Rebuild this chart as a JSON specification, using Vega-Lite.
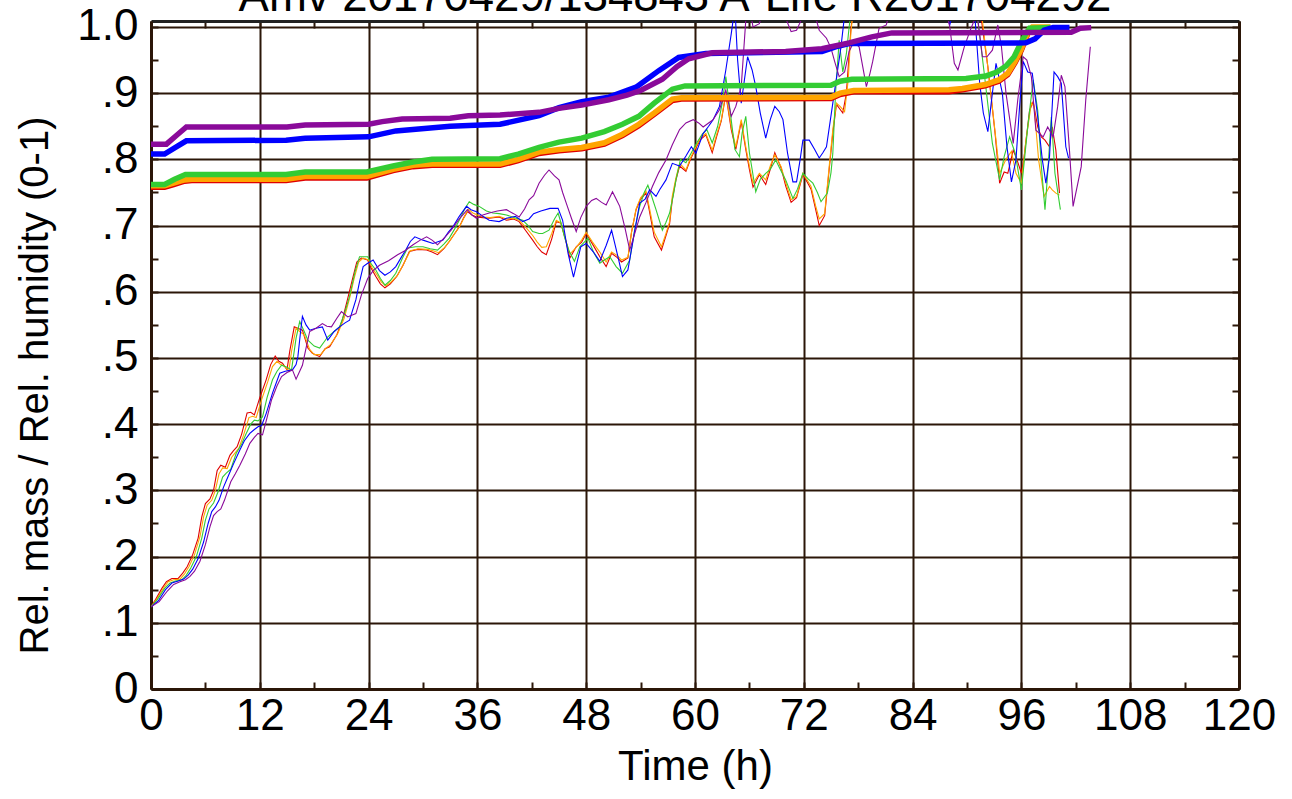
{
"$schema":"https://vega.github.io/schema/vega-lite/v6.json",
"width":1088,"height":668,
"autosize":{"type":"none"},
"padding":{"left":151,"top":21,"right":53,"bottom":110},
"background":"white",
"title":{"text":"Amv 20170429/134843 A-Life R201704292","anchor":"middle","fontSize":45.5,"font":"Liberation Sans","fontWeight":"normal","color":"#000","baseline":"alphabetic","offset":-52,"dx":-20},
"config":{"view":{"stroke":null}},
"datasets":{
"rh":[
{"s":"red","t":0,"v":0.124},{"s":"red","t":0.5,"v":0.135},{"s":"red","t":1.2,"v":0.152},{"s":"red","t":1.7,"v":0.162},{"s":"red","t":2.3,"v":0.167},{"s":"red","t":3.0,"v":0.167},{"s":"red","t":3.5,"v":0.175},{"s":"red","t":4.0,"v":0.185},{"s":"red","t":4.6,"v":0.203},{"s":"red","t":5.2,"v":0.228},{"s":"red","t":5.6,"v":0.26},{"s":"red","t":6.0,"v":0.28},{"s":"red","t":6.5,"v":0.287},{"s":"red","t":6.9,"v":0.3},{"s":"red","t":7.3,"v":0.33},{"s":"red","t":7.7,"v":0.338},{"s":"red","t":8.2,"v":0.335},{"s":"red","t":8.7,"v":0.353},{"s":"red","t":9.1,"v":0.36},{"s":"red","t":9.5,"v":0.366},{"s":"red","t":10.0,"v":0.385},{"s":"red","t":10.6,"v":0.417},{"s":"red","t":11.0,"v":0.418},{"s":"red","t":11.4,"v":0.414},{"s":"red","t":12.0,"v":0.44},{"s":"red","t":12.7,"v":0.467},{"s":"red","t":13.2,"v":0.49},{"s":"red","t":13.7,"v":0.503},{"s":"red","t":14.1,"v":0.495},{"s":"red","t":14.5,"v":0.492},{"s":"red","t":15.0,"v":0.482},{"s":"red","t":15.3,"v":0.51},{"s":"red","t":15.8,"v":0.547},{"s":"red","t":16.2,"v":0.545},{"s":"red","t":16.7,"v":0.542},{"s":"red","t":17.3,"v":0.515},{"s":"red","t":17.8,"v":0.507},{"s":"red","t":18.6,"v":0.502},{"s":"red","t":19.2,"v":0.514},{"s":"red","t":19.7,"v":0.517},{"s":"red","t":20.5,"v":0.535},{"s":"red","t":21.1,"v":0.557},{"s":"red","t":21.7,"v":0.59},{"s":"red","t":22.2,"v":0.618},{"s":"red","t":22.7,"v":0.645},{"s":"red","t":23.2,"v":0.651},{"s":"red","t":23.9,"v":0.648},{"s":"red","t":24.3,"v":0.635},{"s":"red","t":24.8,"v":0.623},{"s":"red","t":25.3,"v":0.612},{"s":"red","t":25.8,"v":0.606},{"s":"red","t":26.4,"v":0.612},{"s":"red","t":27.1,"v":0.623},{"s":"red","t":27.8,"v":0.64},{"s":"red","t":28.5,"v":0.661},{"s":"red","t":29.4,"v":0.664},{"s":"red","t":30.4,"v":0.663},{"s":"red","t":31.0,"v":0.66},{"s":"red","t":31.6,"v":0.656},{"s":"red","t":32.3,"v":0.665},{"s":"red","t":32.9,"v":0.676},{"s":"red","t":33.5,"v":0.688},{"s":"red","t":34.0,"v":0.698},{"s":"red","t":34.5,"v":0.712},{"s":"red","t":34.9,"v":0.721},{"s":"red","t":35.4,"v":0.716},{"s":"red","t":35.9,"v":0.713},{"s":"red","t":36.6,"v":0.712},{"s":"red","t":37.3,"v":0.711},{"s":"red","t":38.4,"v":0.713},{"s":"red","t":39.2,"v":0.708},{"s":"red","t":40.0,"v":0.71},{"s":"red","t":40.6,"v":0.706},{"s":"red","t":41.3,"v":0.693},{"s":"red","t":42.1,"v":0.678},{"s":"red","t":42.6,"v":0.668},{"s":"red","t":43.1,"v":0.66},{"s":"red","t":43.6,"v":0.656},{"s":"red","t":44.2,"v":0.68},{"s":"red","t":44.7,"v":0.706},{"s":"red","t":45.2,"v":0.704},{"s":"red","t":45.7,"v":0.68},{"s":"red","t":46.2,"v":0.651},{"s":"red","t":46.9,"v":0.668},{"s":"red","t":47.5,"v":0.675},{"s":"red","t":48.0,"v":0.688},{"s":"red","t":48.7,"v":0.672},{"s":"red","t":49.5,"v":0.653},{"s":"red","t":50.2,"v":0.638},{"s":"red","t":50.8,"v":0.658},{"s":"red","t":51.4,"v":0.652},{"s":"red","t":51.9,"v":0.645},{"s":"red","t":52.6,"v":0.651},{"s":"red","t":53.0,"v":0.69},{"s":"red","t":53.5,"v":0.724},{"s":"red","t":54.0,"v":0.74},{"s":"red","t":54.6,"v":0.749},{"s":"red","t":55.0,"v":0.72},{"s":"red","t":55.5,"v":0.683},{"s":"red","t":56.3,"v":0.663},{"s":"red","t":56.8,"v":0.685},{"s":"red","t":57.2,"v":0.703},{"s":"red","t":57.5,"v":0.74},{"s":"red","t":57.9,"v":0.769},{"s":"red","t":58.3,"v":0.79},{"s":"red","t":59.0,"v":0.782},{"s":"red","t":59.5,"v":0.8},{"s":"red","t":60.1,"v":0.817},{"s":"red","t":60.6,"v":0.83},{"s":"red","t":61.2,"v":0.837},{"s":"red","t":61.9,"v":0.81},{"s":"red","t":62.4,"v":0.835},{"s":"red","t":62.9,"v":0.858},{"s":"red","t":63.4,"v":0.898},{"s":"red","t":64.0,"v":0.845},{"s":"red","t":64.5,"v":0.815},{"s":"red","t":65.1,"v":0.857},{"s":"red","t":65.6,"v":0.815},{"s":"red","t":66.0,"v":0.785},{"s":"red","t":66.4,"v":0.758},{"s":"red","t":67.1,"v":0.777},{"s":"red","t":67.8,"v":0.762},{"s":"red","t":68.3,"v":0.785},{"s":"red","t":68.8,"v":0.81},{"s":"red","t":69.5,"v":0.787},{"s":"red","t":70.0,"v":0.76},{"s":"red","t":70.6,"v":0.735},{"s":"red","t":71.2,"v":0.742},{"s":"red","t":71.9,"v":0.777},{"s":"red","t":72.4,"v":0.765},{"s":"red","t":72.8,"v":0.755},{"s":"red","t":73.3,"v":0.725},{"s":"red","t":73.7,"v":0.7},{"s":"red","t":74.3,"v":0.715},{"s":"red","t":74.8,"v":0.785},{"s":"red","t":75.2,"v":0.84},{"s":"red","t":75.6,"v":0.883},{"s":"red","t":76.3,"v":0.87},{"s":"red","t":76.7,"v":0.9},{"s":"red","t":77.2,"v":0.998},{"s":"red","t":77.5,"v":1.03},{"s":"red","t":91.3,"v":1.03},{"s":"red","t":91.6,"v":1.01},{"s":"red","t":92.3,"v":0.94},{"s":"red","t":93.1,"v":0.839},{"s":"red","t":93.6,"v":0.764},{"s":"red","t":94.1,"v":0.781},{"s":"red","t":94.5,"v":0.779},{"s":"red","t":95.1,"v":0.814},{"s":"red","t":95.5,"v":0.8},{"s":"red","t":96.0,"v":0.779},{"s":"red","t":96.3,"v":0.804},{"s":"red","t":96.9,"v":0.874},{"s":"red","t":97.3,"v":0.887},{"s":"red","t":97.8,"v":0.849},{"s":"red","t":98.2,"v":0.834},{"s":"red","t":98.6,"v":0.829},{"s":"red","t":99.1,"v":0.819},{"s":"red","t":99.4,"v":0.849},{"s":"red","t":99.8,"v":0.814},{"s":"red","t":100.2,"v":0.749},
{"s":"orange","t":0,"v":0.124},{"s":"orange","t":0.6,"v":0.135},{"s":"orange","t":1.4,"v":0.153},{"s":"orange","t":1.9,"v":0.162},{"s":"orange","t":2.5,"v":0.165},{"s":"orange","t":3.2,"v":0.166},{"s":"orange","t":3.7,"v":0.174},{"s":"orange","t":4.2,"v":0.185},{"s":"orange","t":4.8,"v":0.203},{"s":"orange","t":5.4,"v":0.23},{"s":"orange","t":5.8,"v":0.26},{"s":"orange","t":6.2,"v":0.278},{"s":"orange","t":6.7,"v":0.285},{"s":"orange","t":7.1,"v":0.3},{"s":"orange","t":7.5,"v":0.325},{"s":"orange","t":7.9,"v":0.334},{"s":"orange","t":8.4,"v":0.333},{"s":"orange","t":8.9,"v":0.35},{"s":"orange","t":9.3,"v":0.357},{"s":"orange","t":9.7,"v":0.364},{"s":"orange","t":10.2,"v":0.383},{"s":"orange","t":10.8,"v":0.41},{"s":"orange","t":11.2,"v":0.412},{"s":"orange","t":11.6,"v":0.41},{"s":"orange","t":12.2,"v":0.437},{"s":"orange","t":12.9,"v":0.465},{"s":"orange","t":13.4,"v":0.487},{"s":"orange","t":13.9,"v":0.495},{"s":"orange","t":14.3,"v":0.49},{"s":"orange","t":14.7,"v":0.488},{"s":"orange","t":15.2,"v":0.48},{"s":"orange","t":15.5,"v":0.51},{"s":"orange","t":16.0,"v":0.545},{"s":"orange","t":16.4,"v":0.54},{"s":"orange","t":16.9,"v":0.535},{"s":"orange","t":17.5,"v":0.513},{"s":"orange","t":18.0,"v":0.505},{"s":"orange","t":18.7,"v":0.505},{"s":"orange","t":19.3,"v":0.515},{"s":"orange","t":19.8,"v":0.52},{"s":"orange","t":20.6,"v":0.537},{"s":"orange","t":21.3,"v":0.56},{"s":"orange","t":21.9,"v":0.59},{"s":"orange","t":22.4,"v":0.62},{"s":"orange","t":22.9,"v":0.645},{"s":"orange","t":23.4,"v":0.651},{"s":"orange","t":24.0,"v":0.648},{"s":"orange","t":24.4,"v":0.636},{"s":"orange","t":24.9,"v":0.626},{"s":"orange","t":25.4,"v":0.615},{"s":"orange","t":25.9,"v":0.609},{"s":"orange","t":26.5,"v":0.615},{"s":"orange","t":27.2,"v":0.625},{"s":"orange","t":27.9,"v":0.643},{"s":"orange","t":28.6,"v":0.662},{"s":"orange","t":29.5,"v":0.665},{"s":"orange","t":30.5,"v":0.664},{"s":"orange","t":31.1,"v":0.662},{"s":"orange","t":31.7,"v":0.659},{"s":"orange","t":32.4,"v":0.667},{"s":"orange","t":33.0,"v":0.678},{"s":"orange","t":33.6,"v":0.69},{"s":"orange","t":34.1,"v":0.7},{"s":"orange","t":34.6,"v":0.714},{"s":"orange","t":35.0,"v":0.725},{"s":"orange","t":35.5,"v":0.719},{"s":"orange","t":36.0,"v":0.716},{"s":"orange","t":36.7,"v":0.713},{"s":"orange","t":37.4,"v":0.712},{"s":"orange","t":38.4,"v":0.714},{"s":"orange","t":39.2,"v":0.71},{"s":"orange","t":40.0,"v":0.711},{"s":"orange","t":40.6,"v":0.708},{"s":"orange","t":41.3,"v":0.698},{"s":"orange","t":42.1,"v":0.685},{"s":"orange","t":42.6,"v":0.675},{"s":"orange","t":43.1,"v":0.667},{"s":"orange","t":43.6,"v":0.668},{"s":"orange","t":44.2,"v":0.688},{"s":"orange","t":44.7,"v":0.708},{"s":"orange","t":45.2,"v":0.704},{"s":"orange","t":45.7,"v":0.68},{"s":"orange","t":46.2,"v":0.657},{"s":"orange","t":46.9,"v":0.667},{"s":"orange","t":47.5,"v":0.678},{"s":"orange","t":48.0,"v":0.69},{"s":"orange","t":48.7,"v":0.675},{"s":"orange","t":49.5,"v":0.66},{"s":"orange","t":50.2,"v":0.645},{"s":"orange","t":50.8,"v":0.66},{"s":"orange","t":51.4,"v":0.655},{"s":"orange","t":51.9,"v":0.648},{"s":"orange","t":52.6,"v":0.652},{"s":"orange","t":53.0,"v":0.69},{"s":"orange","t":53.5,"v":0.725},{"s":"orange","t":54.0,"v":0.742},{"s":"orange","t":54.6,"v":0.752},{"s":"orange","t":55.0,"v":0.725},{"s":"orange","t":55.5,"v":0.69},{"s":"orange","t":56.3,"v":0.668},{"s":"orange","t":56.8,"v":0.688},{"s":"orange","t":57.2,"v":0.706},{"s":"orange","t":57.5,"v":0.745},{"s":"orange","t":57.9,"v":0.772},{"s":"orange","t":58.3,"v":0.794},{"s":"orange","t":59.0,"v":0.784},{"s":"orange","t":59.5,"v":0.802},{"s":"orange","t":60.1,"v":0.819},{"s":"orange","t":60.6,"v":0.832},{"s":"orange","t":61.2,"v":0.839},{"s":"orange","t":61.9,"v":0.814},{"s":"orange","t":62.4,"v":0.838},{"s":"orange","t":62.9,"v":0.86},{"s":"orange","t":63.4,"v":0.9},{"s":"orange","t":64.0,"v":0.849},{"s":"orange","t":64.5,"v":0.819},{"s":"orange","t":65.1,"v":0.86},{"s":"orange","t":65.6,"v":0.819},{"s":"orange","t":66.0,"v":0.79},{"s":"orange","t":66.4,"v":0.764},{"s":"orange","t":67.1,"v":0.779},{"s":"orange","t":67.8,"v":0.769},{"s":"orange","t":68.3,"v":0.79},{"s":"orange","t":68.8,"v":0.807},{"s":"orange","t":69.5,"v":0.789},{"s":"orange","t":70.0,"v":0.765},{"s":"orange","t":70.6,"v":0.739},{"s":"orange","t":71.2,"v":0.744},{"s":"orange","t":71.9,"v":0.779},{"s":"orange","t":72.4,"v":0.768},{"s":"orange","t":72.8,"v":0.759},{"s":"orange","t":73.3,"v":0.73},{"s":"orange","t":73.7,"v":0.71},{"s":"orange","t":74.3,"v":0.718},{"s":"orange","t":74.8,"v":0.789},{"s":"orange","t":75.2,"v":0.845},{"s":"orange","t":75.6,"v":0.885},{"s":"orange","t":76.0,"v":0.88},{"s":"orange","t":76.5,"v":0.872},{"s":"orange","t":76.9,"v":0.92},{"s":"orange","t":77.2,"v":0.993},{"s":"orange","t":77.5,"v":1.03},{"s":"orange","t":91.4,"v":1.03},{"s":"orange","t":91.7,"v":1.01},{"s":"orange","t":92.5,"v":0.915},{"s":"orange","t":93.2,"v":0.829},{"s":"orange","t":93.6,"v":0.779},{"s":"orange","t":94.3,"v":0.8},{"s":"orange","t":94.9,"v":0.812},{"s":"orange","t":95.4,"v":0.779},{"s":"orange","t":96.0,"v":0.764},{"s":"orange","t":96.5,"v":0.829},{"s":"orange","t":97.1,"v":0.885},{"s":"orange","t":97.4,"v":0.88},{"s":"orange","t":97.9,"v":0.799},{"s":"orange","t":98.5,"v":0.744},{"s":"orange","t":99.1,"v":0.759},{"s":"orange","t":99.4,"v":0.754},{"s":"orange","t":99.8,"v":0.749},{"s":"orange","t":100.2,"v":0.746},
{"s":"green","t":0,"v":0.124},{"s":"green","t":0.7,"v":0.135},{"s":"green","t":1.5,"v":0.152},{"s":"green","t":2.1,"v":0.16},{"s":"green","t":2.7,"v":0.163},{"s":"green","t":3.4,"v":0.165},{"s":"green","t":3.9,"v":0.172},{"s":"green","t":4.4,"v":0.183},{"s":"green","t":5.0,"v":0.2},{"s":"green","t":5.6,"v":0.228},{"s":"green","t":6.0,"v":0.255},{"s":"green","t":6.4,"v":0.272},{"s":"green","t":6.9,"v":0.281},{"s":"green","t":7.4,"v":0.298},{"s":"green","t":7.9,"v":0.32},{"s":"green","t":8.3,"v":0.326},{"s":"green","t":8.8,"v":0.332},{"s":"green","t":9.4,"v":0.356},{"s":"green","t":10.0,"v":0.37},{"s":"green","t":10.5,"v":0.386},{"s":"green","t":11.0,"v":0.4},{"s":"green","t":11.4,"v":0.406},{"s":"green","t":11.8,"v":0.405},{"s":"green","t":12.3,"v":0.411},{"s":"green","t":12.8,"v":0.44},{"s":"green","t":13.4,"v":0.467},{"s":"green","t":13.9,"v":0.48},{"s":"green","t":14.4,"v":0.489},{"s":"green","t":15.0,"v":0.486},{"s":"green","t":15.5,"v":0.482},{"s":"green","t":16.0,"v":0.53},{"s":"green","t":16.4,"v":0.555},{"s":"green","t":16.9,"v":0.54},{"s":"green","t":17.3,"v":0.527},{"s":"green","t":18.0,"v":0.518},{"s":"green","t":18.6,"v":0.515},{"s":"green","t":19.5,"v":0.532},{"s":"green","t":20.2,"v":0.54},{"s":"green","t":20.8,"v":0.547},{"s":"green","t":21.4,"v":0.57},{"s":"green","t":21.9,"v":0.593},{"s":"green","t":22.5,"v":0.63},{"s":"green","t":23.0,"v":0.653},{"s":"green","t":23.9,"v":0.653},{"s":"green","t":24.3,"v":0.642},{"s":"green","t":24.8,"v":0.633},{"s":"green","t":25.3,"v":0.62},{"s":"green","t":25.8,"v":0.61},{"s":"green","t":26.4,"v":0.617},{"s":"green","t":27.0,"v":0.628},{"s":"green","t":27.7,"v":0.65},{"s":"green","t":28.3,"v":0.666},{"s":"green","t":29.2,"v":0.668},{"s":"green","t":30.0,"v":0.668},{"s":"green","t":30.8,"v":0.665},{"s":"green","t":31.6,"v":0.663},{"s":"green","t":32.3,"v":0.672},{"s":"green","t":32.9,"v":0.681},{"s":"green","t":33.5,"v":0.695},{"s":"green","t":34.0,"v":0.708},{"s":"green","t":34.6,"v":0.725},{"s":"green","t":35.1,"v":0.736},{"s":"green","t":35.6,"v":0.732},{"s":"green","t":36.2,"v":0.729},{"s":"green","t":37.0,"v":0.722},{"s":"green","t":37.7,"v":0.719},{"s":"green","t":38.4,"v":0.718},{"s":"green","t":39.2,"v":0.716},{"s":"green","t":40.3,"v":0.711},{"s":"green","t":41.0,"v":0.708},{"s":"green","t":41.6,"v":0.7},{"s":"green","t":42.1,"v":0.691},{"s":"green","t":42.8,"v":0.688},{"s":"green","t":43.2,"v":0.688},{"s":"green","t":43.9,"v":0.693},{"s":"green","t":44.5,"v":0.71},{"s":"green","t":44.9,"v":0.719},{"s":"green","t":45.2,"v":0.705},{"s":"green","t":45.6,"v":0.683},{"s":"green","t":46.1,"v":0.662},{"s":"green","t":46.7,"v":0.646},{"s":"green","t":47.3,"v":0.668},{"s":"green","t":48.2,"v":0.681},{"s":"green","t":48.8,"v":0.66},{"s":"green","t":49.5,"v":0.643},{"s":"green","t":50.0,"v":0.648},{"s":"green","t":50.6,"v":0.653},{"s":"green","t":51.3,"v":0.638},{"s":"green","t":52.0,"v":0.628},{"s":"green","t":52.8,"v":0.648},{"s":"green","t":53.3,"v":0.69},{"s":"green","t":53.9,"v":0.729},{"s":"green","t":54.4,"v":0.75},{"s":"green","t":54.8,"v":0.761},{"s":"green","t":55.2,"v":0.745},{"s":"green","t":55.7,"v":0.724},{"s":"green","t":56.4,"v":0.693},{"s":"green","t":56.8,"v":0.705},{"s":"green","t":57.2,"v":0.719},{"s":"green","t":57.6,"v":0.745},{"s":"green","t":57.9,"v":0.769},{"s":"green","t":58.4,"v":0.8},{"s":"green","t":59.0,"v":0.795},{"s":"green","t":59.6,"v":0.81},{"s":"green","t":60.2,"v":0.825},{"s":"green","t":60.8,"v":0.838},{"s":"green","t":61.3,"v":0.845},{"s":"green","t":61.9,"v":0.825},{"s":"green","t":62.5,"v":0.85},{"s":"green","t":63.0,"v":0.885},{"s":"green","t":63.4,"v":0.925},{"s":"green","t":63.9,"v":0.87},{"s":"green","t":64.4,"v":0.815},{"s":"green","t":64.9,"v":0.804},{"s":"green","t":65.2,"v":0.84},{"s":"green","t":65.6,"v":0.865},{"s":"green","t":66.0,"v":0.81},{"s":"green","t":66.7,"v":0.751},{"s":"green","t":67.2,"v":0.77},{"s":"green","t":67.8,"v":0.779},{"s":"green","t":68.3,"v":0.785},{"s":"green","t":68.9,"v":0.799},{"s":"green","t":69.4,"v":0.785},{"s":"green","t":70.0,"v":0.769},{"s":"green","t":70.8,"v":0.741},{"s":"green","t":71.3,"v":0.755},{"s":"green","t":71.9,"v":0.779},{"s":"green","t":72.5,"v":0.77},{"s":"green","t":73.0,"v":0.764},{"s":"green","t":73.5,"v":0.75},{"s":"green","t":73.9,"v":0.736},{"s":"green","t":74.6,"v":0.749},{"s":"green","t":75.0,"v":0.78},{"s":"green","t":75.2,"v":0.809},{"s":"green","t":75.5,"v":0.9},{"s":"green","t":75.9,"v":0.98},{"s":"green","t":76.3,"v":0.932},{"s":"green","t":76.7,"v":0.96},{"s":"green","t":77.0,"v":1.0},{"s":"green","t":77.3,"v":1.03},{"s":"green","t":90.9,"v":1.03},{"s":"green","t":91.2,"v":1.01},{"s":"green","t":91.9,"v":0.93},{"s":"green","t":92.8,"v":0.824},{"s":"green","t":93.6,"v":0.769},{"s":"green","t":94.1,"v":0.804},{"s":"green","t":94.7,"v":0.834},{"s":"green","t":95.3,"v":0.81},{"s":"green","t":96.0,"v":0.754},{"s":"green","t":96.7,"v":0.849},{"s":"green","t":97.3,"v":0.92},{"s":"green","t":97.8,"v":0.874},{"s":"green","t":98.2,"v":0.79},{"s":"green","t":98.6,"v":0.724},{"s":"green","t":98.9,"v":0.779},{"s":"green","t":99.3,"v":0.864},{"s":"green","t":99.7,"v":0.779},{"s":"green","t":100.3,"v":0.724},
{"s":"blue","t":0,"v":0.124},{"s":"blue","t":0.8,"v":0.133},{"s":"blue","t":1.6,"v":0.15},{"s":"blue","t":2.3,"v":0.16},{"s":"blue","t":3.0,"v":0.163},{"s":"blue","t":3.6,"v":0.166},{"s":"blue","t":4.1,"v":0.172},{"s":"blue","t":4.6,"v":0.181},{"s":"blue","t":5.2,"v":0.197},{"s":"blue","t":5.8,"v":0.222},{"s":"blue","t":6.3,"v":0.25},{"s":"blue","t":6.7,"v":0.268},{"s":"blue","t":7.1,"v":0.275},{"s":"blue","t":7.5,"v":0.285},{"s":"blue","t":8.0,"v":0.305},{"s":"blue","t":8.5,"v":0.321},{"s":"blue","t":9.1,"v":0.34},{"s":"blue","t":9.8,"v":0.361},{"s":"blue","t":10.3,"v":0.375},{"s":"blue","t":10.9,"v":0.386},{"s":"blue","t":11.4,"v":0.392},{"s":"blue","t":11.8,"v":0.396},{"s":"blue","t":12.2,"v":0.398},{"s":"blue","t":12.7,"v":0.416},{"s":"blue","t":13.4,"v":0.447},{"s":"blue","t":14.2,"v":0.477},{"s":"blue","t":14.8,"v":0.48},{"s":"blue","t":15.6,"v":0.482},{"s":"blue","t":16.0,"v":0.49},{"s":"blue","t":16.2,"v":0.502},{"s":"blue","t":16.5,"v":0.54},{"s":"blue","t":16.7,"v":0.563},{"s":"blue","t":17.1,"v":0.55},{"s":"blue","t":17.5,"v":0.542},{"s":"blue","t":18.2,"v":0.545},{"s":"blue","t":18.9,"v":0.547},{"s":"blue","t":19.5,"v":0.527},{"s":"blue","t":20.2,"v":0.54},{"s":"blue","t":20.8,"v":0.547},{"s":"blue","t":21.4,"v":0.553},{"s":"blue","t":21.9,"v":0.557},{"s":"blue","t":22.6,"v":0.588},{"s":"blue","t":23.0,"v":0.615},{"s":"blue","t":23.4,"v":0.638},{"s":"blue","t":23.9,"v":0.643},{"s":"blue","t":24.5,"v":0.648},{"s":"blue","t":25.2,"v":0.632},{"s":"blue","t":25.8,"v":0.625},{"s":"blue","t":26.4,"v":0.63},{"s":"blue","t":27.0,"v":0.638},{"s":"blue","t":27.6,"v":0.652},{"s":"blue","t":28.1,"v":0.663},{"s":"blue","t":28.6,"v":0.676},{"s":"blue","t":29.1,"v":0.683},{"s":"blue","t":30.0,"v":0.678},{"s":"blue","t":31.1,"v":0.673},{"s":"blue","t":32.2,"v":0.678},{"s":"blue","t":32.8,"v":0.69},{"s":"blue","t":33.3,"v":0.698},{"s":"blue","t":34.0,"v":0.714},{"s":"blue","t":34.8,"v":0.729},{"s":"blue","t":35.3,"v":0.724},{"s":"blue","t":35.9,"v":0.721},{"s":"blue","t":36.6,"v":0.714},{"s":"blue","t":37.3,"v":0.708},{"s":"blue","t":38.4,"v":0.706},{"s":"blue","t":39.2,"v":0.711},{"s":"blue","t":40.2,"v":0.714},{"s":"blue","t":41.0,"v":0.706},{"s":"blue","t":41.7,"v":0.71},{"s":"blue","t":42.2,"v":0.718},{"s":"blue","t":43.0,"v":0.722},{"s":"blue","t":44.0,"v":0.726},{"s":"blue","t":44.9,"v":0.726},{"s":"blue","t":45.4,"v":0.708},{"s":"blue","t":46.0,"v":0.658},{"s":"blue","t":46.6,"v":0.622},{"s":"blue","t":47.0,"v":0.645},{"s":"blue","t":47.4,"v":0.668},{"s":"blue","t":48.0,"v":0.673},{"s":"blue","t":48.8,"v":0.66},{"s":"blue","t":49.5,"v":0.646},{"s":"blue","t":50.2,"v":0.67},{"s":"blue","t":50.8,"v":0.693},{"s":"blue","t":51.5,"v":0.653},{"s":"blue","t":52.0,"v":0.623},{"s":"blue","t":52.6,"v":0.633},{"s":"blue","t":53.2,"v":0.68},{"s":"blue","t":53.9,"v":0.734},{"s":"blue","t":54.5,"v":0.74},{"s":"blue","t":55.0,"v":0.754},{"s":"blue","t":55.7,"v":0.744},{"s":"blue","t":56.1,"v":0.754},{"s":"blue","t":56.8,"v":0.769},{"s":"blue","t":57.5,"v":0.794},{"s":"blue","t":58.3,"v":0.79},{"s":"blue","t":59.0,"v":0.805},{"s":"blue","t":59.6,"v":0.819},{"s":"blue","t":60.1,"v":0.809},{"s":"blue","t":60.9,"v":0.839},{"s":"blue","t":61.5,"v":0.85},{"s":"blue","t":62.0,"v":0.86},{"s":"blue","t":62.7,"v":0.88},{"s":"blue","t":63.4,"v":0.935},{"s":"blue","t":64.0,"v":0.99},{"s":"blue","t":64.4,"v":1.03},{"s":"blue","t":64.7,"v":0.95},{"s":"blue","t":65.1,"v":0.885},{"s":"blue","t":65.8,"v":0.955},{"s":"blue","t":66.3,"v":0.935},{"s":"blue","t":66.7,"v":0.91},{"s":"blue","t":67.2,"v":0.87},{"s":"blue","t":67.8,"v":0.832},{"s":"blue","t":68.3,"v":0.86},{"s":"blue","t":68.8,"v":0.88},{"s":"blue","t":69.3,"v":0.872},{"s":"blue","t":69.7,"v":0.86},{"s":"blue","t":70.2,"v":0.81},{"s":"blue","t":70.8,"v":0.766},{"s":"blue","t":71.2,"v":0.766},{"s":"blue","t":71.6,"v":0.8},{"s":"blue","t":71.9,"v":0.829},{"s":"blue","t":72.6,"v":0.829},{"s":"blue","t":73.2,"v":0.815},{"s":"blue","t":73.7,"v":0.802},{"s":"blue","t":74.1,"v":0.81},{"s":"blue","t":74.5,"v":0.819},{"s":"blue","t":75.2,"v":0.885},{"s":"blue","t":76.1,"v":0.97},{"s":"blue","t":76.6,"v":1.03},{"s":"blue","t":87.5,"v":1.03},{"s":"blue","t":88.1,"v":1.003},{"s":"blue","t":88.6,"v":1.03},{"s":"blue","t":90.6,"v":1.03},{"s":"blue","t":90.9,"v":1.01},{"s":"blue","t":91.4,"v":0.915},{"s":"blue","t":91.8,"v":0.87},{"s":"blue","t":92.3,"v":0.842},{"s":"blue","t":92.8,"v":0.9},{"s":"blue","t":93.2,"v":0.945},{"s":"blue","t":93.9,"v":0.9},{"s":"blue","t":94.4,"v":0.82},{"s":"blue","t":94.9,"v":0.766},{"s":"blue","t":95.4,"v":0.799},{"s":"blue","t":95.8,"v":0.88},{"s":"blue","t":96.2,"v":0.948},{"s":"blue","t":96.7,"v":0.932},{"s":"blue","t":97.2,"v":0.93},{"s":"blue","t":97.8,"v":0.864},{"s":"blue","t":98.3,"v":0.8},{"s":"blue","t":98.7,"v":0.764},{"s":"blue","t":99.1,"v":0.804},{"s":"blue","t":99.6,"v":0.932},{"s":"blue","t":100.0,"v":0.925},{"s":"blue","t":100.4,"v":0.915},{"s":"blue","t":100.9,"v":0.819},{"s":"blue","t":101.2,"v":0.802},
{"s":"purple","t":0,"v":0.124},{"s":"purple","t":0.9,"v":0.132},{"s":"purple","t":1.8,"v":0.148},{"s":"purple","t":2.5,"v":0.158},{"s":"purple","t":3.2,"v":0.162},{"s":"purple","t":3.8,"v":0.165},{"s":"purple","t":4.3,"v":0.17},{"s":"purple","t":4.8,"v":0.178},{"s":"purple","t":5.4,"v":0.193},{"s":"purple","t":6.0,"v":0.218},{"s":"purple","t":6.5,"v":0.245},{"s":"purple","t":6.9,"v":0.262},{"s":"purple","t":7.3,"v":0.268},{"s":"purple","t":7.7,"v":0.272},{"s":"purple","t":8.1,"v":0.285},{"s":"purple","t":8.8,"v":0.313},{"s":"purple","t":9.3,"v":0.325},{"s":"purple","t":9.8,"v":0.338},{"s":"purple","t":10.4,"v":0.355},{"s":"purple","t":10.9,"v":0.371},{"s":"purple","t":11.4,"v":0.38},{"s":"purple","t":11.8,"v":0.386},{"s":"purple","t":12.3,"v":0.384},{"s":"purple","t":12.8,"v":0.41},{"s":"purple","t":13.3,"v":0.437},{"s":"purple","t":13.9,"v":0.458},{"s":"purple","t":14.4,"v":0.472},{"s":"purple","t":15.0,"v":0.478},{"s":"purple","t":15.6,"v":0.482},{"s":"purple","t":16.0,"v":0.468},{"s":"purple","t":16.4,"v":0.48},{"s":"purple","t":16.7,"v":0.489},{"s":"purple","t":17.1,"v":0.515},{"s":"purple","t":17.5,"v":0.54},{"s":"purple","t":18.2,"v":0.545},{"s":"purple","t":18.9,"v":0.552},{"s":"purple","t":19.4,"v":0.548},{"s":"purple","t":19.9,"v":0.547},{"s":"purple","t":20.5,"v":0.56},{"s":"purple","t":21.0,"v":0.57},{"s":"purple","t":21.7,"v":0.562},{"s":"purple","t":22.2,"v":0.565},{"s":"purple","t":22.6,"v":0.567},{"s":"purple","t":23.2,"v":0.595},{"s":"purple","t":23.9,"v":0.62},{"s":"purple","t":24.5,"v":0.632},{"s":"purple","t":25.2,"v":0.64},{"s":"purple","t":26.2,"v":0.647},{"s":"purple","t":27.2,"v":0.656},{"s":"purple","t":28.0,"v":0.662},{"s":"purple","t":28.9,"v":0.671},{"s":"purple","t":29.7,"v":0.678},{"s":"purple","t":30.4,"v":0.683},{"s":"purple","t":31.0,"v":0.678},{"s":"purple","t":31.6,"v":0.671},{"s":"purple","t":32.4,"v":0.682},{"s":"purple","t":33.1,"v":0.693},{"s":"purple","t":34.0,"v":0.71},{"s":"purple","t":34.9,"v":0.724},{"s":"purple","t":35.4,"v":0.716},{"s":"purple","t":35.9,"v":0.711},{"s":"purple","t":36.6,"v":0.716},{"s":"purple","t":37.3,"v":0.719},{"s":"purple","t":38.2,"v":0.722},{"s":"purple","t":39.2,"v":0.724},{"s":"purple","t":40.0,"v":0.718},{"s":"purple","t":40.6,"v":0.713},{"s":"purple","t":41.2,"v":0.725},{"s":"purple","t":41.7,"v":0.739},{"s":"purple","t":42.2,"v":0.745},{"s":"purple","t":42.8,"v":0.764},{"s":"purple","t":43.4,"v":0.776},{"s":"purple","t":43.9,"v":0.784},{"s":"purple","t":44.5,"v":0.775},{"s":"purple","t":45.0,"v":0.769},{"s":"purple","t":45.4,"v":0.75},{"s":"purple","t":45.8,"v":0.734},{"s":"purple","t":46.4,"v":0.71},{"s":"purple","t":46.9,"v":0.691},{"s":"purple","t":47.4,"v":0.712},{"s":"purple","t":48.0,"v":0.729},{"s":"purple","t":48.6,"v":0.738},{"s":"purple","t":49.1,"v":0.741},{"s":"purple","t":49.7,"v":0.735},{"s":"purple","t":50.2,"v":0.731},{"s":"purple","t":50.9,"v":0.751},{"s":"purple","t":51.3,"v":0.74},{"s":"purple","t":51.7,"v":0.729},{"s":"purple","t":52.3,"v":0.695},{"s":"purple","t":52.8,"v":0.663},{"s":"purple","t":53.4,"v":0.69},{"s":"purple","t":53.9,"v":0.713},{"s":"purple","t":54.6,"v":0.735},{"s":"purple","t":55.3,"v":0.759},{"s":"purple","t":56.0,"v":0.78},{"s":"purple","t":56.8,"v":0.799},{"s":"purple","t":57.5,"v":0.822},{"s":"purple","t":58.3,"v":0.845},{"s":"purple","t":59.0,"v":0.855},{"s":"purple","t":59.8,"v":0.86},{"s":"purple","t":60.4,"v":0.855},{"s":"purple","t":60.9,"v":0.849},{"s":"purple","t":61.5,"v":0.855},{"s":"purple","t":62.0,"v":0.86},{"s":"purple","t":62.7,"v":0.875},{"s":"purple","t":63.4,"v":0.905},{"s":"purple","t":64.0,"v":0.865},{"s":"purple","t":64.5,"v":0.88},{"s":"purple","t":65.1,"v":0.91},{"s":"purple","t":65.6,"v":1.01},{"s":"purple","t":66.0,"v":1.03},{"s":"purple","t":66.4,"v":1.0},{"s":"purple","t":67.1,"v":1.005},{"s":"purple","t":67.6,"v":1.03},{"s":"purple","t":69.5,"v":1.03},{"s":"purple","t":70.1,"v":1.01},{"s":"purple","t":70.6,"v":0.993},{"s":"purple","t":71.2,"v":0.995},{"s":"purple","t":71.7,"v":1.01},{"s":"purple","t":72.2,"v":1.03},{"s":"purple","t":73.0,"v":1.03},{"s":"purple","t":73.4,"v":1.01},{"s":"purple","t":73.7,"v":0.995},{"s":"purple","t":74.5,"v":0.983},{"s":"purple","t":75.0,"v":0.968},{"s":"purple","t":75.4,"v":0.948},{"s":"purple","t":75.9,"v":0.925},{"s":"purple","t":76.5,"v":0.932},{"s":"purple","t":77.0,"v":0.963},{"s":"purple","t":77.5,"v":0.977},{"s":"purple","t":78.1,"v":0.97},{"s":"purple","t":78.5,"v":0.94},{"s":"purple","t":78.9,"v":0.91},{"s":"purple","t":79.3,"v":0.93},{"s":"purple","t":79.6,"v":0.948},{"s":"purple","t":80.3,"v":0.998},{"s":"purple","t":81.1,"v":1.003},{"s":"purple","t":81.6,"v":1.03},{"s":"purple","t":87.6,"v":1.03},{"s":"purple","t":88.1,"v":1.0},{"s":"purple","t":88.6,"v":0.945},{"s":"purple","t":89.0,"v":0.935},{"s":"purple","t":89.7,"v":0.97},{"s":"purple","t":90.3,"v":0.993},{"s":"purple","t":90.8,"v":1.01},{"s":"purple","t":91.2,"v":1.01},{"s":"purple","t":91.7,"v":0.955},{"s":"purple","t":92.2,"v":0.955},{"s":"purple","t":92.8,"v":0.965},{"s":"purple","t":93.4,"v":1.003},{"s":"purple","t":93.8,"v":0.97},{"s":"purple","t":94.3,"v":0.9},{"s":"purple","t":95.1,"v":0.824},{"s":"purple","t":95.6,"v":0.89},{"s":"purple","t":96.2,"v":0.955},{"s":"purple","t":96.6,"v":0.95},{"s":"purple","t":97.1,"v":0.925},{"s":"purple","t":97.6,"v":0.844},{"s":"purple","t":98.4,"v":0.834},{"s":"purple","t":98.9,"v":0.849},{"s":"purple","t":99.5,"v":0.834},{"s":"purple","t":100.0,"v":0.88},{"s":"purple","t":100.4,"v":0.927},{"s":"purple","t":100.8,"v":0.91},{"s":"purple","t":101.3,"v":0.814},{"s":"purple","t":101.7,"v":0.729},{"s":"purple","t":102.6,"v":0.789},{"s":"purple","t":103.1,"v":0.89},{"s":"purple","t":103.6,"v":0.97}
],
"mass":[
{"s":"red","t":0,"v":0.758},{"s":"red","t":1.5,"v":0.758},{"s":"red","t":2.5,"v":0.762},{"s":"red","t":3.7,"v":0.767},{"s":"red","t":4.5,"v":0.768},{"s":"red","t":14.9,"v":0.768},{"s":"red","t":17,"v":0.772},{"s":"red","t":23.8,"v":0.772},{"s":"red","t":26.7,"v":0.783},{"s":"red","t":28.9,"v":0.789},{"s":"red","t":31,"v":0.791},{"s":"red","t":38.5,"v":0.791},{"s":"red","t":40.5,"v":0.798},{"s":"red","t":42.8,"v":0.809},{"s":"red","t":45,"v":0.813},{"s":"red","t":47.5,"v":0.816},{"s":"red","t":50,"v":0.823},{"s":"red","t":52,"v":0.836},{"s":"red","t":53.8,"v":0.851},{"s":"red","t":55.5,"v":0.868},{"s":"red","t":57.5,"v":0.889},{"s":"red","t":58.5,"v":0.891},{"s":"red","t":75,"v":0.892},{"s":"red","t":76,"v":0.898},{"s":"red","t":77.5,"v":0.902},{"s":"red","t":88,"v":0.902},{"s":"red","t":89.5,"v":0.905},{"s":"red","t":92,"v":0.911},{"s":"red","t":93.5,"v":0.918},{"s":"red","t":94.5,"v":0.928},{"s":"red","t":95.3,"v":0.946},{"s":"red","t":96,"v":0.965},{"s":"red","t":96.8,"v":0.993},{"s":"red","t":97.2,"v":0.998},{"s":"red","t":99.2,"v":0.998},
{"s":"orange","t":0,"v":0.76},{"s":"orange","t":1.5,"v":0.76},{"s":"orange","t":2.5,"v":0.764},{"s":"orange","t":3.7,"v":0.769},{"s":"orange","t":4.5,"v":0.77},{"s":"orange","t":14.9,"v":0.77},{"s":"orange","t":17,"v":0.774},{"s":"orange","t":23.8,"v":0.774},{"s":"orange","t":26.7,"v":0.785},{"s":"orange","t":28.9,"v":0.791},{"s":"orange","t":31,"v":0.793},{"s":"orange","t":38.5,"v":0.793},{"s":"orange","t":40.5,"v":0.8},{"s":"orange","t":42.8,"v":0.811},{"s":"orange","t":45,"v":0.815},{"s":"orange","t":47.5,"v":0.818},{"s":"orange","t":50,"v":0.825},{"s":"orange","t":52,"v":0.838},{"s":"orange","t":53.8,"v":0.853},{"s":"orange","t":55.5,"v":0.87},{"s":"orange","t":57.5,"v":0.891},{"s":"orange","t":58.5,"v":0.893},{"s":"orange","t":75,"v":0.894},{"s":"orange","t":76,"v":0.9},{"s":"orange","t":77.5,"v":0.904},{"s":"orange","t":88,"v":0.905},{"s":"orange","t":89.5,"v":0.907},{"s":"orange","t":92,"v":0.913},{"s":"orange","t":93.5,"v":0.92},{"s":"orange","t":94.5,"v":0.93},{"s":"orange","t":95.3,"v":0.948},{"s":"orange","t":96,"v":0.967},{"s":"orange","t":96.8,"v":0.995},{"s":"orange","t":97.2,"v":1.0},{"s":"orange","t":99.2,"v":1.0},
{"s":"green","t":0,"v":0.762},{"s":"green","t":1.5,"v":0.762},{"s":"green","t":2.6,"v":0.77},{"s":"green","t":3.8,"v":0.777},{"s":"green","t":14.9,"v":0.777},{"s":"green","t":17,"v":0.781},{"s":"green","t":23.8,"v":0.781},{"s":"green","t":26.7,"v":0.79},{"s":"green","t":28.9,"v":0.796},{"s":"green","t":31,"v":0.8},{"s":"green","t":38.5,"v":0.801},{"s":"green","t":40.5,"v":0.808},{"s":"green","t":42.8,"v":0.818},{"s":"green","t":45,"v":0.826},{"s":"green","t":47.5,"v":0.832},{"s":"green","t":50,"v":0.842},{"s":"green","t":52,"v":0.853},{"s":"green","t":53.8,"v":0.865},{"s":"green","t":55.5,"v":0.885},{"s":"green","t":57.5,"v":0.906},{"s":"green","t":58.9,"v":0.911},{"s":"green","t":75,"v":0.912},{"s":"green","t":76,"v":0.918},{"s":"green","t":77.3,"v":0.921},{"s":"green","t":89.9,"v":0.922},{"s":"green","t":92.1,"v":0.926},{"s":"green","t":93.3,"v":0.932},{"s":"green","t":94.3,"v":0.941},{"s":"green","t":95.2,"v":0.955},{"s":"green","t":95.8,"v":0.972},{"s":"green","t":96.5,"v":0.99},{"s":"green","t":96.9,"v":0.998},{"s":"green","t":99.2,"v":0.999},
{"s":"blue","t":0,"v":0.808},{"s":"blue","t":1.5,"v":0.808},{"s":"blue","t":2.7,"v":0.818},{"s":"blue","t":3.9,"v":0.828},{"s":"blue","t":14.9,"v":0.829},{"s":"blue","t":17,"v":0.832},{"s":"blue","t":24,"v":0.834},{"s":"blue","t":27,"v":0.843},{"s":"blue","t":33,"v":0.85},{"s":"blue","t":38.5,"v":0.853},{"s":"blue","t":42.8,"v":0.866},{"s":"blue","t":45,"v":0.878},{"s":"blue","t":47.5,"v":0.887},{"s":"blue","t":50.5,"v":0.894},{"s":"blue","t":53.5,"v":0.909},{"s":"blue","t":56,"v":0.934},{"s":"blue","t":58.2,"v":0.954},{"s":"blue","t":61.2,"v":0.96},{"s":"blue","t":74,"v":0.963},{"s":"blue","t":75.5,"v":0.97},{"s":"blue","t":77,"v":0.975},{"s":"blue","t":96.5,"v":0.976},{"s":"blue","t":97.5,"v":0.982},{"s":"blue","t":98.5,"v":0.995},{"s":"blue","t":99.5,"v":0.999},{"s":"blue","t":101.3,"v":0.999},
{"s":"purple","t":0,"v":0.823},{"s":"purple","t":1.7,"v":0.823},{"s":"purple","t":2.8,"v":0.836},{"s":"purple","t":3.9,"v":0.849},{"s":"purple","t":15,"v":0.849},{"s":"purple","t":17,"v":0.852},{"s":"purple","t":24,"v":0.853},{"s":"purple","t":25.5,"v":0.857},{"s":"purple","t":27.7,"v":0.861},{"s":"purple","t":33,"v":0.862},{"s":"purple","t":35,"v":0.866},{"s":"purple","t":38.5,"v":0.867},{"s":"purple","t":42.8,"v":0.871},{"s":"purple","t":45,"v":0.877},{"s":"purple","t":47.5,"v":0.882},{"s":"purple","t":50.5,"v":0.89},{"s":"purple","t":52.5,"v":0.897},{"s":"purple","t":54,"v":0.904},{"s":"purple","t":56.4,"v":0.921},{"s":"purple","t":58,"v":0.94},{"s":"purple","t":59.3,"v":0.952},{"s":"purple","t":61.9,"v":0.961},{"s":"purple","t":70,"v":0.963},{"s":"purple","t":74,"v":0.967},{"s":"purple","t":77,"v":0.976},{"s":"purple","t":79.5,"v":0.985},{"s":"purple","t":81.7,"v":0.991},{"s":"purple","t":101.5,"v":0.992},{"s":"purple","t":102.5,"v":0.998},{"s":"purple","t":103.7,"v":0.999}
]
},
"resolve":{"axis":{"x":"independent","y":"independent"}},
"layer":[
{"data":{"name":"rh"},
 "mark":{"type":"line","strokeWidth":1.1,"clip":true},
 "encoding":{
  "x":{"field":"t","type":"quantitative","scale":{"domain":[0,120],"nice":false,"zero":false},
   "axis":{"orient":"bottom","values":[0,6,12,18,24,30,36,42,48,54,60,66,72,78,84,90,96,102,108,114,120],
    "grid":true,"gridColor":"#2b1608","gridWidth":2,"gridOpacity":{"condition":{"test":"datum.value % 12 !== 0","value":0},"value":1},
    "tickSize":-7,"tickWidth":2,"tickColor":"#2b1608","domainColor":"#2b1608","domainWidth":3,
    "labelExpr":"datum.value % 12 === 0 ? datum.label : ''","labelFont":"Liberation Sans","labelFontSize":44,"labelColor":"#000","labelPadding":12,"labelFlush":false,"labelOverlap":false,"labelBound":false,
    "title":"Time (h)","titleFont":"Liberation Sans","titleFontSize":42,"titleFontWeight":"normal","titleColor":"#000","titlePadding":8}},
  "y":{"field":"v","type":"quantitative","scale":{"domain":[0,1.009],"nice":false,"zero":false},
   "axis":{"orient":"left","values":[0,0.05,0.1,0.15,0.2,0.25,0.3,0.35,0.4,0.45,0.5,0.55,0.6,0.65,0.7,0.75,0.8,0.85,0.9,0.95,1],
    "grid":true,"gridColor":"#2b1608","gridWidth":2,"gridOpacity":{"condition":{"test":"round(datum.value*20) % 2 !== 0","value":0},"value":1},
    "tickSize":-7,"tickWidth":2,"tickColor":"#2b1608","domainColor":"#2b1608","domainWidth":3,
    "labelExpr":"datum.value === 0 ? '0' : (round(datum.value*20) % 2 === 0 ? replace(format(datum.value, '.1f'), '0.', '.') : '')",
    "labelFont":"Liberation Sans","labelFontSize":44,"labelColor":"#000","labelPadding":20,"labelFlush":false,"labelOverlap":false,"labelBound":false,
    "title":"Rel. mass / Rel. humidity (0-1)","titleFont":"Liberation Sans","titleFontSize":40,"titleFontWeight":"normal","titleColor":"#000",
    "titleX":-116,"titleY":364,"titleAngle":-90,"titleAlign":"center","titleBaseline":"middle"}},
  "color":{"field":"s","type":"nominal","scale":{"domain":["red","orange","green","blue","purple"],"range":["#e00000","#ffa500","#33cc33","#0000ff","#8a0a9a"]},"legend":null}
 }},
{"data":{"name":"mass"},
 "mark":{"type":"line","strokeWidth":5.5,"clip":true},
 "encoding":{
  "x":{"field":"t","type":"quantitative",
   "axis":{"orient":"top","values":[0,6,12,18,24,30,36,42,48,54,60,66,72,78,84,90,96,102,108,114,120],"grid":false,"labels":false,"title":null,
    "tickSize":-7,"tickWidth":2,"tickColor":"#2b1608","domainColor":"#222222","domainWidth":3}},
  "y":{"field":"v","type":"quantitative",
   "axis":{"orient":"right","values":[0,0.05,0.1,0.15,0.2,0.25,0.3,0.35,0.4,0.45,0.5,0.55,0.6,0.65,0.7,0.75,0.8,0.85,0.9,0.95,1],"grid":false,"labels":false,"title":null,
    "tickSize":-7,"tickWidth":2,"tickColor":"#2b1608","domainColor":"#2b1608","domainWidth":3}},
  "color":{"field":"s","type":"nominal","legend":null}
 }}
]
}
